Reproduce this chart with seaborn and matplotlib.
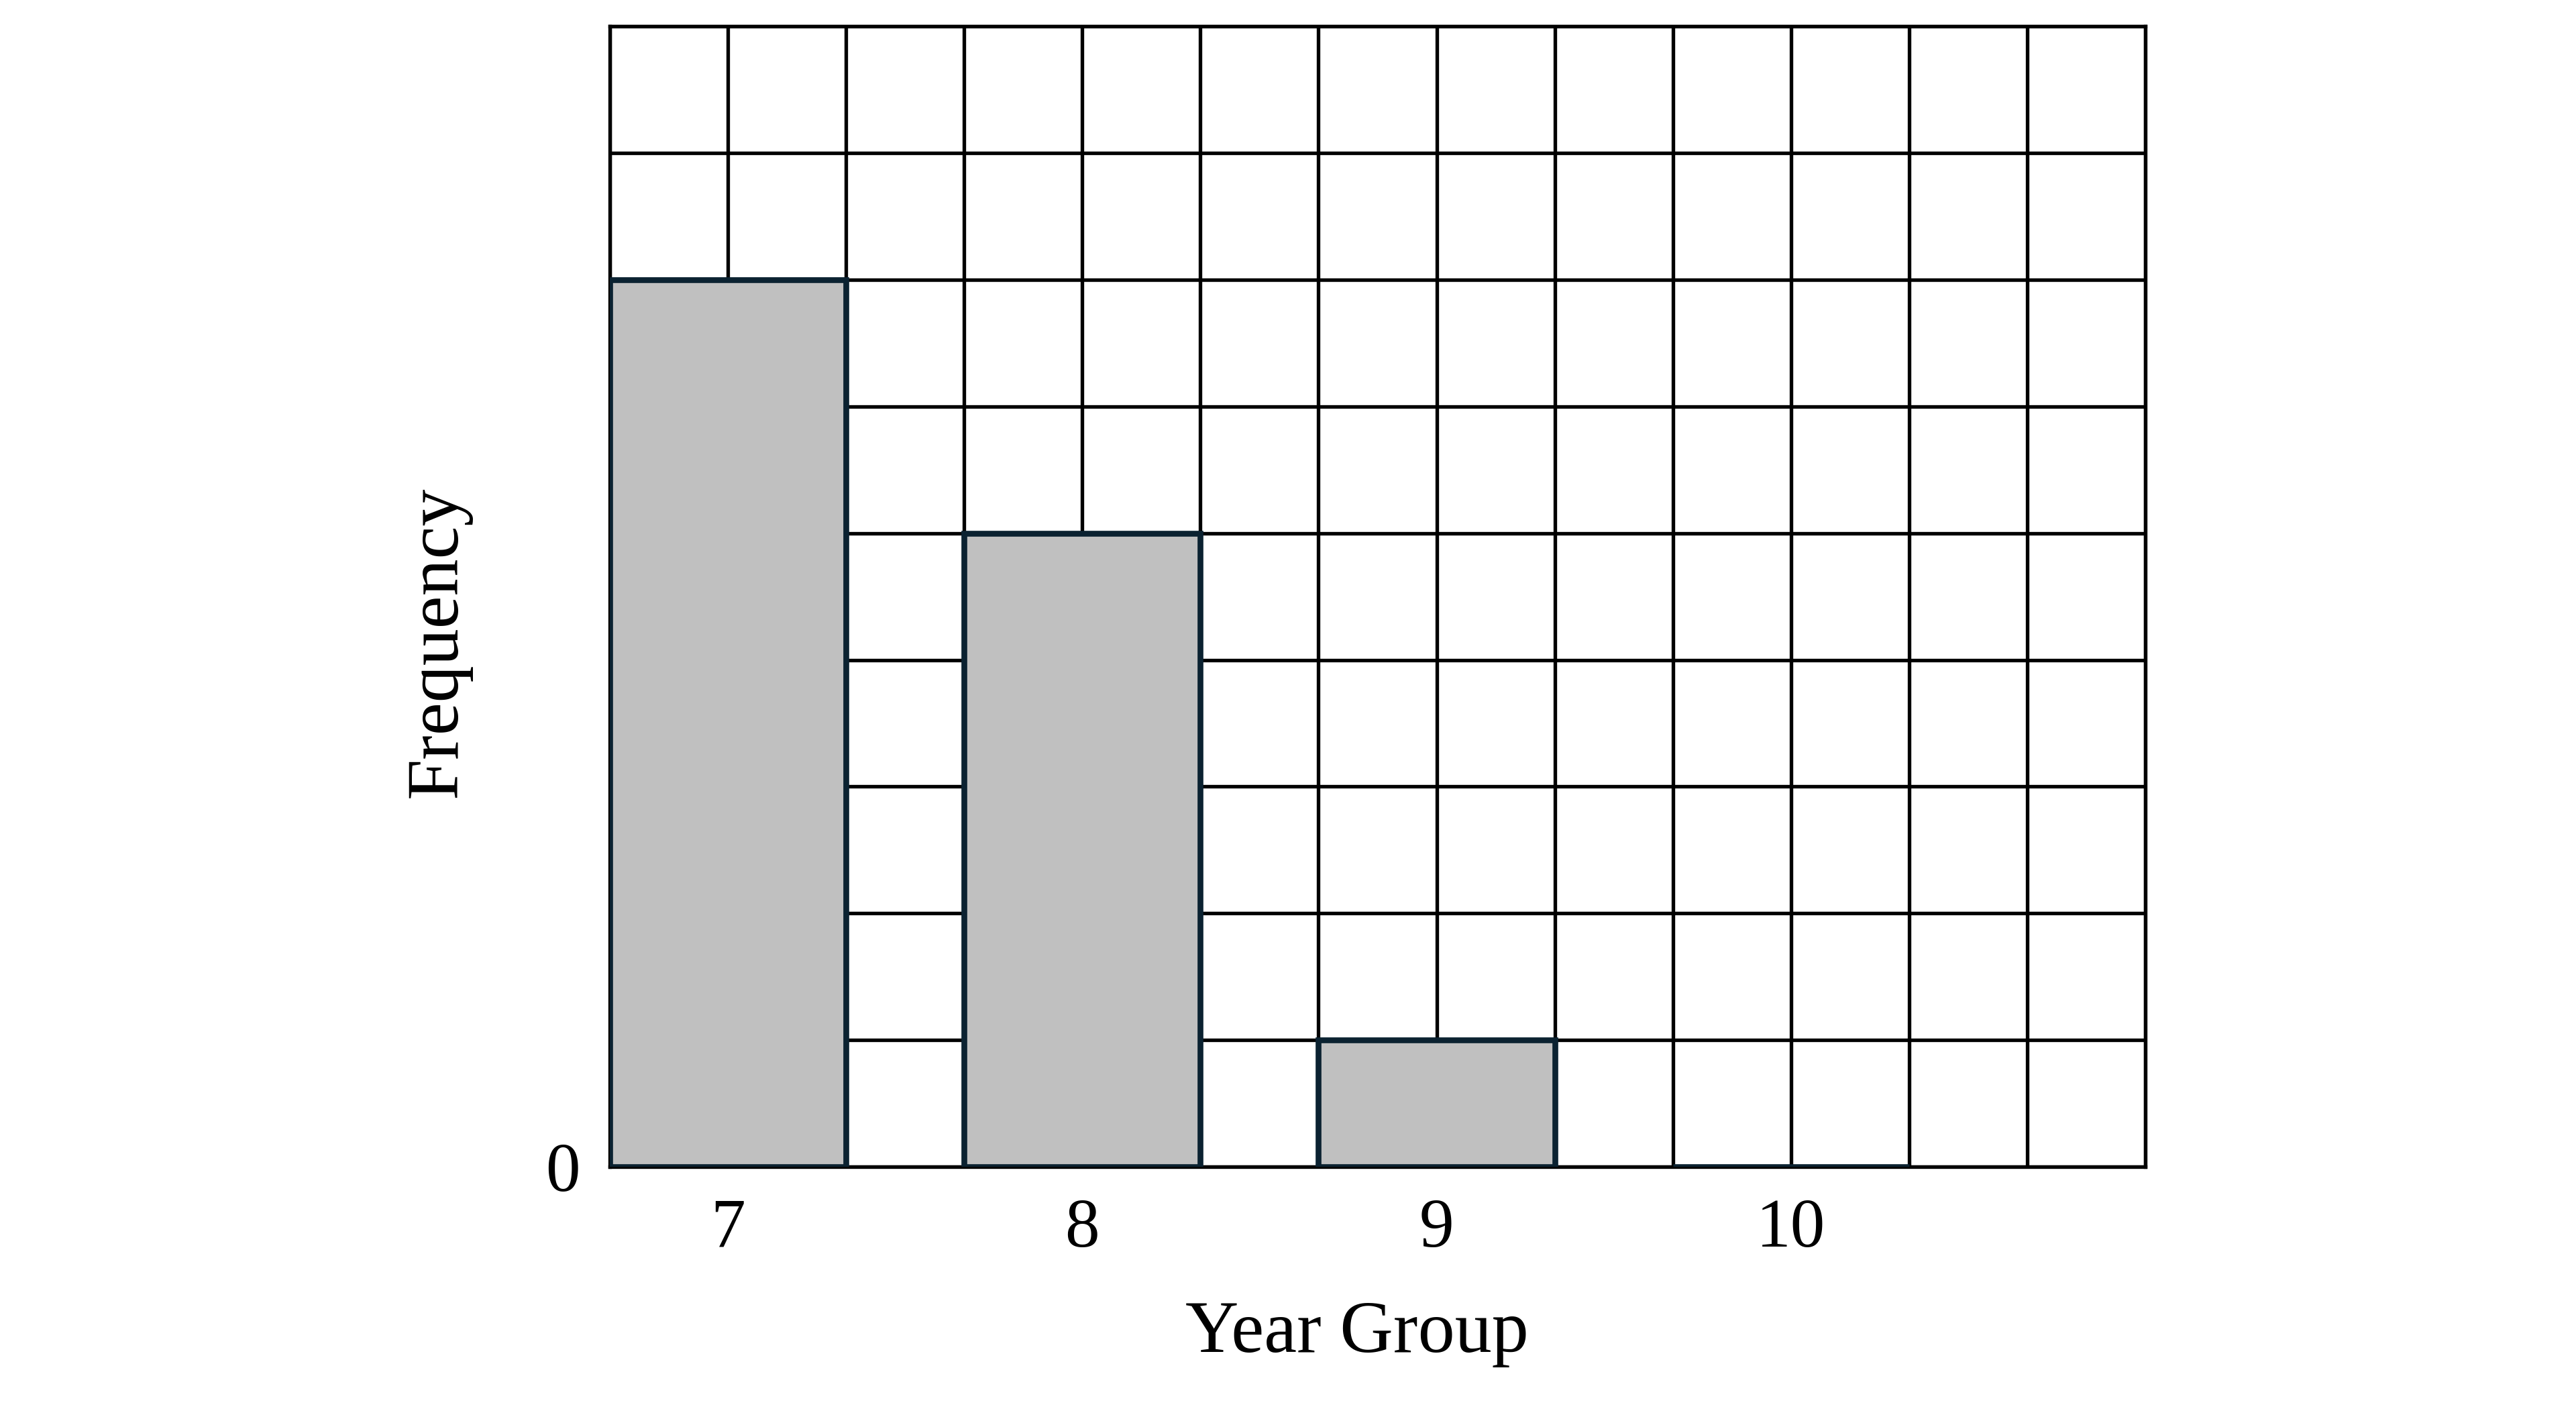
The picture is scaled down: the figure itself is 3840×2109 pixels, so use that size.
import matplotlib
matplotlib.use("Agg")
import matplotlib.pyplot as plt
import seaborn as sns
import numpy as np

# data
year_groups = ["7", "8", "9", "10"]
frequency = [7, 5, 1, 0]

sns.set_style("white")
plt.rcParams['font.family'] = ['Liberation Serif', 'DejaVu Serif']
plt.rcParams['text.color'] = 'black'
plt.rcParams['axes.labelcolor'] = 'black'
plt.rcParams['xtick.color'] = 'black'
plt.rcParams['ytick.color'] = 'black'

fig = plt.figure(figsize=(16, 2109 / 240), dpi=240)
ax = fig.add_axes([371 / 1568, 1 - 710 / 861, 935 / 1568, 694 / 861])

sns.barplot(x=year_groups, y=frequency, order=year_groups, width=2 / 3,
            color="#c0c0c0", saturation=1, edgecolor="#0b2231",
            linewidth=2.6, ax=ax, zorder=3)

# squared paper grid: 13 columns, 9 rows
ax.set_xlim(-1 / 3, 4)
ax.set_ylim(0, 9)
ax.xaxis.remove_overlapping_locs = False
ax.yaxis.remove_overlapping_locs = False
ax.set_xticks(np.arange(-1 / 3, 4.01, 1 / 3), minor=True)
ax.set_yticks(np.arange(0, 10), minor=True)
ax.grid(which="minor", color="black", linewidth=1.6)
ax.grid(which="major", visible=False)
ax.set_axisbelow(True)
for s in ax.spines.values():
    s.set_color("black")
    s.set_linewidth(1.6)

ax.set_xticks(range(len(year_groups)))
ax.set_xticklabels(year_groups, fontsize=31)
ax.set_yticks([0])
ax.set_yticklabels(["0"], fontsize=31)
ax.tick_params(which="both", length=0)
ax.tick_params(axis="x", pad=14)
ax.tick_params(axis="y", pad=13)

ax.set_xlabel("Year Group", fontsize=33)
ax.set_ylabel("Frequency", fontsize=33)
ax.xaxis.set_label_coords(0.4866, -0.117)
ax.yaxis.set_label_coords(-0.0898, 0.46)

fig.savefig("out.png", dpi=240, facecolor="white")
